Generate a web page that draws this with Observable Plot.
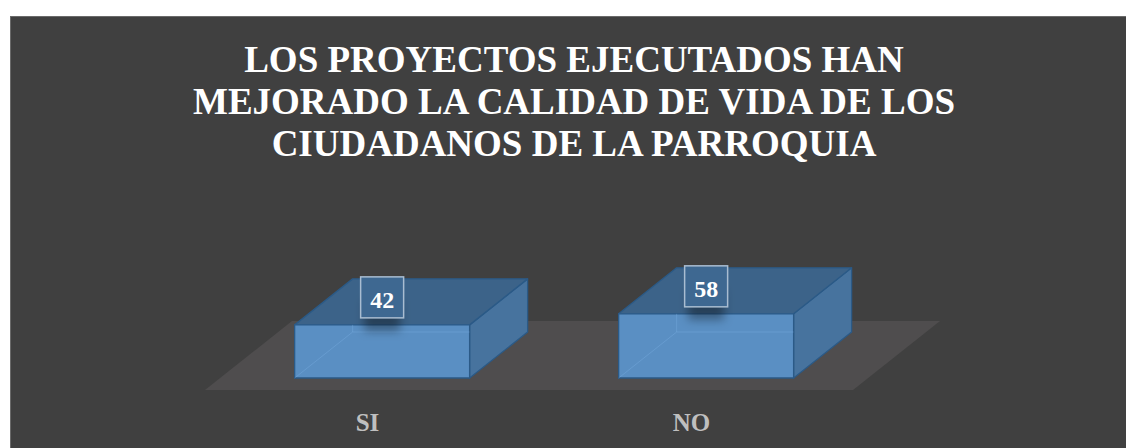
<!DOCTYPE html>
<html><head><meta charset="utf-8">
<script src="https://cdn.jsdelivr.net/npm/d3@7"></script>
<script src="https://cdn.jsdelivr.net/npm/@observablehq/plot@0.6"></script>
<style>
html,body{margin:0;padding:0;background:#fff;width:1126px;height:448px;overflow:hidden;}
#panel{position:absolute;left:10px;top:16px;width:1126px;height:440px;background:#404040;border-top:1px solid #6a6a6a;border-left:1px solid #6a6a6a;}
#title{box-sizing:border-box;height:163px;padding-top:22px;margin:0;text-align:center;color:#fff;font:bold 37px/42px "Liberation Serif","Times New Roman",serif;}
#chart svg{display:block;}
</style></head><body>
<div id="panel">
  <div id="title">LOS PROYECTOS EJECUTADOS HAN<br>MEJORADO LA CALIDAD DE VIDA DE LOS<br>CIUDADANOS DE LA PARROQUIA</div>
  <div id="chart"></div>
</div>
<script>
// ---- data ----
const categories = ["SI", "NO"];
const values = [42, 58];
const dataLabels = ["42", "58"];

// ---- scale settings ----
const AXIS_MIN = -35;
const AXIS_MAX = 100;

// ---- 3D look ----
const FLOOR_DX = 87, FLOOR_DY = 69, FRONT_GAP = 12;
const BAR_DX = 58, BAR_DY = 46, BAR_FRAC = 0.54;

const data = categories.map((c, i) => ({category: c, value: values[i], label: dataLabels[i]}));

function bandwidthOf(scales, V, index) {
  const s = scales && scales.x;
  if (s && typeof s.bandwidth === "function") return s.bandwidth();
  if (s && typeof s.bandwidth === "number") return s.bandwidth;
  return Math.abs(V.x[index[1]] - V.x[index[0]]);
}
const pathOf = pts => "M" + pts.map(p => p.join(",")).join("L") + "Z";

const floorMark = Plot.barY(categories, {
  x: d => d, y1: AXIS_MIN, y2: AXIS_MIN,
  render(index, scales, V) {
    const bw = bandwidthOf(scales, V, index);
    const xs = Array.from(index, i => V.x[i]);
    const x0 = Math.min(...xs), x1 = Math.max(...xs) + bw;
    const yf = V.y1[index[0]] + FRONT_GAP;
    const g = d3.create("svg:g");
    g.append("path")
      .attr("d", pathOf([[x0, yf], [x1, yf], [x1 + FLOOR_DX, yf - FLOOR_DY], [x0 + FLOOR_DX, yf - FLOOR_DY]]))
      .attr("fill", "#4f4d4e");
    return g.node();
  }
});

const barMark = Plot.barY(data, {
  x: "category", y1: AXIS_MIN, y2: "value",
  render(index, scales, V) {
    const bw = bandwidthOf(scales, V, index);
    const shift = FRONT_GAP * FLOOR_DX / FLOOR_DY;
    const g = d3.create("svg:g");
    const f = g.append("defs").append("filter").attr("id", "lblShadow")
      .attr("x", "-60%").attr("y", "-60%").attr("width", "220%").attr("height", "220%");
    f.append("feGaussianBlur").attr("stdDeviation", 5);
    for (const i of index) {
      const cx = V.x[i] + bw / 2 + shift;
      const w = bw * BAR_FRAC;
      const xl = cx - w / 2, xr = cx + w / 2;
      const yb = V.y1[i], yt = V.y2[i];
      const edge = "#2b5a87";
      g.append("path").attr("d", pathOf([[xr, yb], [xr, yt], [xr + BAR_DX, yt - BAR_DY], [xr + BAR_DX, yb - BAR_DY]]))
        .attr("fill", "#47739e").attr("stroke", edge).attr("stroke-width", 1.3).attr("stroke-linejoin", "round");
      g.append("path").attr("d", pathOf([[xl, yt], [xr, yt], [xr + BAR_DX, yt - BAR_DY], [xl + BAR_DX, yt - BAR_DY]]))
        .attr("fill", "#3c6389").attr("stroke", edge).attr("stroke-width", 1.3).attr("stroke-linejoin", "round");
      g.append("path").attr("d", pathOf([[xl, yb], [xr, yb], [xr, yt], [xl, yt]]))
        .attr("fill", "#5a8fc3").attr("stroke", edge).attr("stroke-width", 1.3);
      // faint hidden edges seen through the front face
      const yBack = yb - BAR_DY;
      const vTop = Math.max(yt, yBack - (yb - yt));
      g.append("path")
        .attr("d", `M${xl},${yb}L${xl + BAR_DX},${yBack}L${xr},${yBack}M${xl + BAR_DX},${yBack}L${xl + BAR_DX},${Math.max(yt, vTop)}`)
        .attr("fill", "none").attr("stroke", "#7fb2e6").attr("stroke-opacity", 0.35).attr("stroke-width", 1);
      // data label shadow
      g.append("rect").attr("x", cx - 18).attr("y", yt - 24).attr("width", 36).attr("height", 30)
        .attr("fill", "#000").attr("fill-opacity", 0.35).attr("filter", "url(#lblShadow)");
      // data label box
      g.append("rect").attr("x", cx - 21.5).attr("y", yt - 48).attr("width", 43).attr("height", 41)
        .attr("fill", "#3e6891").attr("stroke", "#a9bdd1").attr("stroke-width", 1.5);
      g.append("text").attr("x", cx).attr("y", yt - 17)
        .attr("text-anchor", "middle").attr("fill", "#fff")
        .attr("font-family", "Liberation Serif, serif").attr("font-weight", "bold").attr("font-size", 24)
        .text(data[i].label);
    }
    return g.node();
  }
});

const chart = Plot.plot({
  width: 1126,
  height: 268,
  marginBottom: 40,
  style: {background: "transparent", color: "#BFBFBF", fontFamily: "Liberation Serif, serif"},
  x: {type: "band", domain: categories, range: [194, 842], padding: 0, label: null},
  y: {domain: [AXIS_MIN, AXIS_MAX], range: [198, 198 - 0.69 * (AXIS_MAX - AXIS_MIN)], axis: null},
  marks: [
    floorMark,
    barMark,
    Plot.axisX({tickSize: 0, tickPadding: 5, fontSize: 25, fontWeight: "bold", fill: "#BFBFBF", label: null})
  ]
});
document.getElementById("chart").appendChild(chart);
</script>
</body></html>
